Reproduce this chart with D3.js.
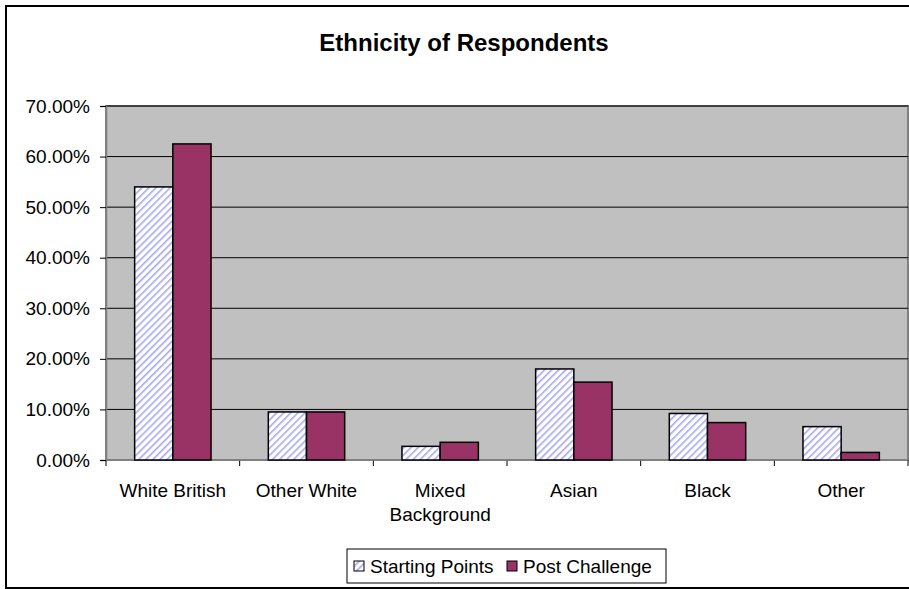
<!DOCTYPE html>
<html>
<head>
<meta charset="utf-8">
<script src="https://cdn.jsdelivr.net/npm/d3@7"></script>
<style>
  body { margin: 0; background: white; }
  svg { display: block; font-family: Arial, "Liberation Sans", sans-serif; }
</style>
</head>
<body>
<div id="chart"></div>
<script>
// 데이터
const categories = ["White British", "Other White", "Mixed Background", "Asian", "Black", "Other"];
const startingPoints = [0.540, 0.095, 0.027, 0.180, 0.092, 0.066];
const postChallenge = [0.625, 0.095, 0.035, 0.154, 0.074, 0.015];
const seriesNames = ["Starting Points", "Post Challenge"];
const yTicks = [0, 0.1, 0.2, 0.3, 0.4, 0.5, 0.6, 0.7];

const width = 909, height = 589;
const plot = { left: 106, right: 908, top: 106, bottom: 460 };
const labelSize = "19px";

const svg = d3.select("#chart").append("svg")
  .attr("width", width)
  .attr("height", height);

// 줄무늬 패턴
const defs = svg.append("defs");
const pat = defs.append("pattern")
  .attr("id", "hatch")
  .attr("patternUnits", "userSpaceOnUse")
  .attr("width", 5).attr("height", 5)
  .attr("patternTransform", "rotate(45)");
pat.append("rect").attr("width", 5).attr("height", 5).attr("fill", "white");
pat.append("rect").attr("x", 0).attr("width", 1.6).attr("height", 5).attr("fill", "#a8a8f4");

// 바깥 테두리
svg.append("rect")
  .attr("x", 6).attr("y", 6)
  .attr("width", width + 10).attr("height", 582)
  .attr("fill", "white")
  .attr("stroke", "#000").attr("stroke-width", 2);

// 제목
svg.append("text")
  .attr("x", 464).attr("y", 51)
  .attr("text-anchor", "middle")
  .attr("font-size", "24px")
  .attr("font-weight", "bold")
  .text("Ethnicity of Respondents");

const x = d3.scaleBand().domain(categories).range([plot.left, plot.right]);
const y = d3.scaleLinear().domain([0, 0.7]).range([plot.bottom, plot.top]);
// 막대 폭: gap width 150%
const barW = x.bandwidth() / 3.5;

// 플롯 영역
svg.append("rect")
  .attr("x", plot.left).attr("y", plot.top)
  .attr("width", plot.right - plot.left).attr("height", plot.bottom - plot.top)
  .attr("fill", "#c0c0c0")
  .attr("stroke", "#808080").attr("stroke-width", 2);

// 격자선
svg.append("g").selectAll("line")
  .data(yTicks.filter(d => d > 0))
  .join("line")
  .attr("x1", plot.left).attr("x2", plot.right)
  .attr("y1", d => y(d)).attr("y2", d => y(d))
  .attr("stroke", "#000").attr("stroke-width", 1);

// Y축
const yAxis = svg.append("g")
  .attr("transform", `translate(${plot.left},0)`)
  .call(d3.axisLeft(y).tickValues(yTicks).tickFormat(d3.format(".2%")).tickSize(6).tickPadding(10));
yAxis.select(".domain").attr("stroke", "#808080").attr("stroke-width", 1.5);
yAxis.selectAll(".tick line").attr("stroke", "#000");
yAxis.selectAll("text").attr("font-size", labelSize).attr("font-family", "Arial, 'Liberation Sans', sans-serif").attr("fill", "#000");

// X축 눈금
const bounds = categories.map(c => x(c)).concat([plot.right]);
svg.append("g").selectAll("line")
  .data(bounds)
  .join("line")
  .attr("x1", d => d).attr("x2", d => d)
  .attr("y1", plot.bottom).attr("y2", plot.bottom + 6)
  .attr("stroke", "#000");
svg.append("line")
  .attr("x1", plot.left).attr("x2", plot.right)
  .attr("y1", plot.bottom).attr("y2", plot.bottom)
  .attr("stroke", "#808080").attr("stroke-width", 1.5);

// 막대
const groups = svg.append("g").selectAll("g")
  .data(categories)
  .join("g")
  .attr("transform", d => `translate(${x(d) + x.bandwidth() / 2},0)`);

groups.append("rect")
  .attr("x", -barW)
  .attr("y", (d, i) => y(startingPoints[i]))
  .attr("width", barW)
  .attr("height", (d, i) => y(0) - y(startingPoints[i]))
  .attr("fill", "url(#hatch)")
  .attr("stroke", "#000").attr("stroke-width", 1.5);

groups.append("rect")
  .attr("x", 0)
  .attr("y", (d, i) => y(postChallenge[i]))
  .attr("width", barW)
  .attr("height", (d, i) => y(0) - y(postChallenge[i]))
  .attr("fill", "#993366")
  .attr("stroke", "#000").attr("stroke-width", 1.5);

// X축 라벨
groups.each(function(d) {
  const words = d === "Mixed Background" ? ["Mixed", "Background"] : [d];
  const t = d3.select(this).append("text")
    .attr("text-anchor", "middle")
    .attr("font-size", labelSize);
  words.forEach((w, i) => {
    t.append("tspan").attr("x", 0).attr("y", 497 + i * 24).text(w);
  });
});

// 범례
const lg = svg.append("g");
lg.append("rect")
  .attr("x", 347).attr("y", 549)
  .attr("width", 319).attr("height", 34)
  .attr("fill", "white").attr("stroke", "#000").attr("stroke-width", 1);
const legendItems = [
  { name: seriesNames[0], fill: "url(#hatch)", x: 354 },
  { name: seriesNames[1], fill: "#993366", x: 507 }
];
legendItems.forEach(it => {
  lg.append("rect")
    .attr("x", it.x).attr("y", 561).attr("width", 10).attr("height", 10)
    .attr("fill", it.fill).attr("stroke", "#000").attr("stroke-width", 1);
  lg.append("text")
    .attr("x", it.x + 16).attr("y", 573)
    .attr("font-size", labelSize)
    .text(it.name);
});
</script>
</body>
</html>
